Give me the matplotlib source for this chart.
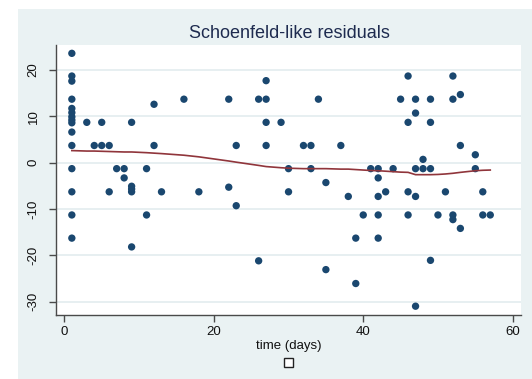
import matplotlib
matplotlib.use("Agg")
import matplotlib.pyplot as plt
from matplotlib.patches import Rectangle

plt.rcParams['font.family'] = ['Liberation Sans', 'DejaVu Sans']
plt.rcParams['axes.unicode_minus'] = False

# Residuals grouped by failure time (days)
time_days = (
    [1] * 15 + [3, 4, 5, 5, 6, 6, 7, 8, 8, 9, 9, 9, 9, 9, 11, 11, 12, 12, 13, 16, 18,
                22, 22, 23, 23, 26, 26, 27, 27, 27, 27, 29, 30, 30, 32, 33, 33, 34, 35, 35,
                37, 38, 39, 39, 40, 41, 42, 42, 42, 42, 42, 43, 44, 45, 46, 46, 46, 46,
                47, 47, 47, 47, 47, 48, 48, 49, 49, 49, 49, 50, 51, 52, 52, 52, 52,
                53, 53, 53, 55, 55, 56, 56, 57]
)
residuals = [
    23.6, 18.7, 17.6, 13.7, 11.7, 10.8, 9.9, 9.2, 8.6, 6.6, 3.7, -1.3, -6.3, -11.3, -16.3,
    8.7, 3.7, 8.7, 3.7, 3.7, -6.3, -1.3, -1.3, -3.3, 8.7, -5.1, -5.7, -6.3, -18.2,
    -1.3, -11.3, 12.6, 3.7, -6.3, 13.7, -6.3,
    13.7, -5.3, 3.7, -9.3, 13.7, -21.2, 17.7, 13.7, 8.7, 3.7, 8.7, -1.3, -6.3,
    3.7, 3.7, -1.3, 13.7, -4.3, -23.1,
    3.7, -7.3, -16.3, -26.1, -11.3, -1.3, -1.3, -3.3, -7.3, -11.3, -16.3, -6.3, -1.3,
    13.7, 18.7, 8.7, -6.3, -11.3,
    13.7, 10.7, -1.3, -7.3, -31.0, 0.7, -1.3, 13.7, 8.7, -1.3, -21.1, -11.3, -6.3,
    18.7, 13.7, -11.3, -12.3,
    14.7, 3.7, -14.2, 1.7, -1.3, -6.3, -11.3, -11.3,
]

# Running-line smoother evaluated at each distinct time
smooth_time = [1, 3, 4, 5, 6, 7, 8, 9, 11, 12, 13, 16, 18, 22, 23, 26, 27, 29, 30, 32,
               33, 34, 35, 37, 38, 39, 40, 41, 42, 43, 44, 45, 46, 47, 48, 49, 50, 51,
               52, 53, 55, 56, 57]
smooth_resid = [2.6, 2.5, 2.5, 2.45, 2.4, 2.35, 2.3, 2.3, 2.15, 2.05, 1.95, 1.6, 1.25,
                0.35, 0.1, -0.6, -0.85, -1.1, -1.2, -1.3, -1.3, -1.3, -1.3, -1.4, -1.4,
                -1.5, -1.6, -1.7, -1.75, -1.85, -1.95, -2.05, -2.1, -2.6, -2.6, -2.6,
                -2.55, -2.45, -2.3, -2.1, -1.75, -1.65, -1.6]

x_ticks = [0, 20, 40, 60]
y_ticks = [-30, -20, -10, 0, 10, 20]

BG = '#EAF2F3'
NAVY = '#1A476F'
MAROON = '#90353B'
SPINE = '#4a4a4a'

W, H = 532, 379
fig = plt.figure(figsize=(W / 100, H / 100), dpi=100)
fig.patch.set_facecolor('white')

# outer graph region
fig.patches.append(Rectangle((17.6 / W, 0), 1 - 17.6 / W, (H - 9.3) / H,
                             transform=fig.transFigure, facecolor=BG,
                             edgecolor='none', zorder=-5))

ax = fig.add_axes([56.3 / W, 1 - 315 / H, (520.9 - 56.3) / W, (315 - 45) / H])
ax.set_zorder(1)
ax.set_facecolor('white')

ax.set_xlim(-1.08, 61.1)
ax.set_ylim(-32.9, 25.4)

for yt in y_ticks:
    ax.axhline(yt, color='#E3ECEF', lw=1.2, zorder=1)

ax.scatter(time_days, residuals, s=28, color=NAVY, edgecolors='none', zorder=3)
ax.plot(smooth_time, smooth_resid, color=MAROON, lw=1.2, zorder=4)

for side in ('top', 'right'):
    ax.spines[side].set_visible(False)
for side in ('left', 'bottom'):
    ax.spines[side].set_color(SPINE)
    ax.spines[side].set_linewidth(1.0)

ax.set_xticks(x_ticks)
ax.set_yticks(y_ticks)
ax.tick_params(axis='both', colors=SPINE, length=5, width=1.0, labelsize=9.5,
               labelcolor='#111111')
ax.tick_params(axis='x', pad=3)
ax.tick_params(axis='y', pad=7)
for lab in ax.get_yticklabels():
    lab.set_rotation(90)
    lab.set_va('center')

ax.set_xlabel('time (days)', fontsize=9.5, color='#111111', labelpad=1)

fig.text(289 / W, 1 - 33.3 / H, 'Schoenfeld-like residuals', ha='center', va='center',
         fontsize=13, color='#1E2B4F')

# empty legend key
fig.patches.append(Rectangle(((288.4 - 4.5) / W, 1 - (362.3 + 4.5) / H), 9 / W, 9 / H,
                             transform=fig.transFigure, facecolor='white',
                             edgecolor='#222222', lw=1.0, zorder=2))

fig.savefig('out.png', dpi=100, facecolor=fig.get_facecolor())
